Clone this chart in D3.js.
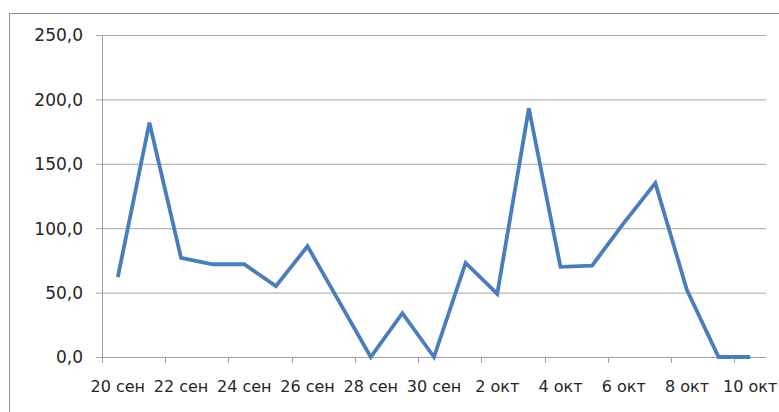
<!DOCTYPE html>
<html>
<head>
<meta charset="utf-8">
<script src="https://cdn.jsdelivr.net/npm/d3@7"></script>
<style>
  html, body { margin: 0; padding: 0; background: #fff; }
  svg { display: block; }
</style>
</head>
<body>
<svg id="chart" width="779" height="412"></svg>
<script>
const days = ["20 сен","21 сен","22 сен","23 сен","24 сен","25 сен","26 сен","27 сен","28 сен","29 сен","30 сен",
              "1 окт","2 окт","3 окт","4 окт","5 окт","6 окт","7 окт","8 окт","9 окт","10 окт"];
const values = [62, 182, 77, 72, 72, 55, 86, 43, 0, 34, 0, 73, 49, 193, 70, 71, 104, 135, 52, 0, 0];
const tickLabels = ["20 сен","22 сен","24 сен","26 сен","28 сен","30 сен","2 окт","4 окт","6 окт","8 окт","10 окт"];
const yTicks = [0, 50, 100, 150, 200, 250];

(function () {
const svg = d3.select("#chart");
const pL = 102, pR = 766, pT = 35, pB = 357;

// outer frame (extends beyond the right and bottom edges)
svg.append("rect")
  .attr("x", 9.5).attr("y", 13.5)
  .attr("width", 900).attr("height", 500)
  .attr("fill", "none").attr("stroke", "#8c8c8c").attr("stroke-width", 1);

const x = d3.scaleBand().domain(days).range([pL, pR]).padding(0);
const y = d3.scaleLinear().domain([0, 250]).range([pB, pT]);

const font = "DejaVu Sans, sans-serif";
const textColor = "#262626";

// gridlines + y axis
const yAxis = d3.axisLeft(y)
  .tickValues(yTicks)
  .tickSize(-(pR - pL))
  .tickPadding(0)
  .tickFormat(d => d3.format(".1f")(d).replace(".", ","));
const gy = svg.append("g").attr("transform", `translate(${pL},0)`).call(yAxis);
gy.select(".domain").remove();
gy.selectAll(".tick line").attr("stroke", "#a6a6a6").attr("stroke-width", 1).attr("x1", -6);
gy.selectAll(".tick text")
  .attr("x", -19).attr("dy", "0.35em")
  .attr("fill", textColor)
  .style("font-family", font).style("font-size", "17px");

// vertical y axis line
svg.append("line")
  .attr("x1", pL + 0.5).attr("x2", pL + 0.5)
  .attr("y1", pT).attr("y2", pB + 6)
  .attr("stroke", "#a0a0a0");

// x axis: tick marks at slot boundaries every 2 days
const gx = svg.append("g").attr("transform", `translate(0,${pB})`);
gx.append("line").attr("x1", pL).attr("x2", pR).attr("y1", 0.5).attr("y2", 0.5).attr("stroke", "#a0a0a0");
gx.selectAll("line.tk").data(tickLabels).join("line")
  .attr("class", "tk")
  .attr("x1", d => Math.round(x(d)) + 0.5).attr("x2", d => Math.round(x(d)) + 0.5)
  .attr("y1", 0).attr("y2", 6)
  .attr("stroke", "#a0a0a0");
gx.selectAll("text").data(tickLabels).join("text")
  .attr("x", d => x(d) + x.bandwidth() / 2)
  .attr("y", 35)
  .attr("text-anchor", "middle")
  .attr("fill", textColor)
  .style("font-family", font).style("font-size", "16px")
  .text(d => d);

// line
const line = d3.line()
  .x((d, i) => x(days[i]) + x.bandwidth() / 2)
  .y(d => y(d));
svg.append("path")
  .datum(values)
  .attr("d", line)
  .attr("fill", "none")
  .attr("stroke", "#4a7ebb")
  .attr("stroke-width", 3.8)
  .attr("stroke-linejoin", "miter")
  .attr("stroke-linecap", "butt");
})();
</script>
</body>
</html>
